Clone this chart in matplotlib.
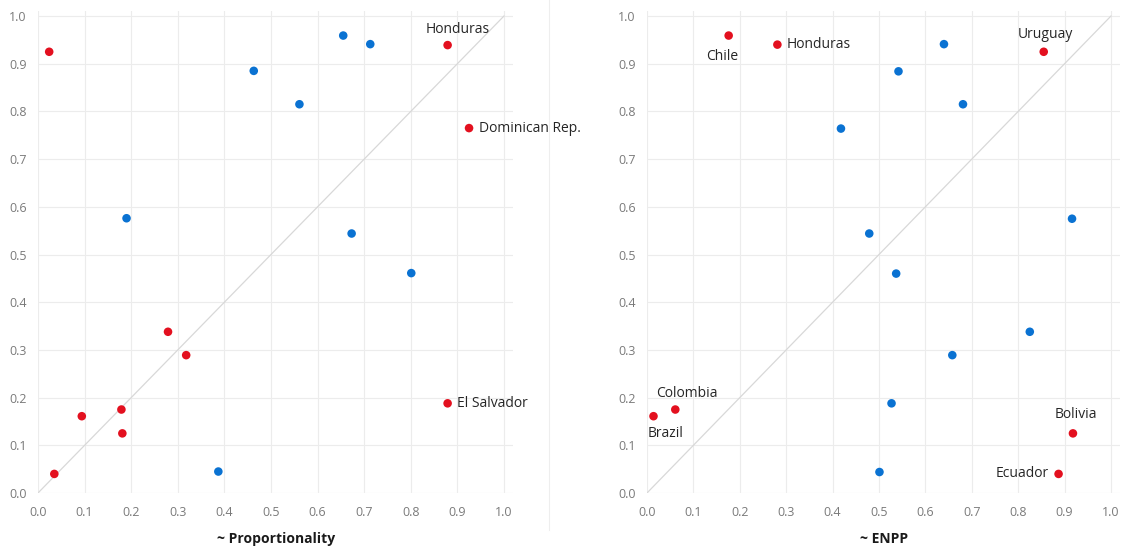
"""Two scatter panels of party-system measures for 18 Latin American countries."""

import matplotlib
import matplotlib.pyplot as plt
from matplotlib.lines import Line2D

matplotlib.use("Agg")

plt.rcParams["font.family"] = ["Open Sans", "DejaVu Sans"]

RED = "#e3101f"
BLUE = "#0a72d2"

# left panel: ~ Proportionality
prop_x = [0.024, 0.879, 0.925, 0.279, 0.318, 0.094, 0.179, 0.181, 0.035, 0.879,
          0.190, 0.463, 0.561, 0.655, 0.713, 0.673, 0.801, 0.387]
prop_y = [0.925, 0.939, 0.765, 0.338, 0.289, 0.161, 0.175, 0.125, 0.040, 0.188,
          0.576, 0.885, 0.815, 0.959, 0.941, 0.544, 0.461, 0.045]
prop_red = [True] * 10 + [False] * 8
prop_labels = {1: "Honduras", 2: "Dominican Rep.", 9: "El Salvador"}

# right panel: ~ ENPP
enpp_x = [0.176, 0.281, 0.855, 0.061, 0.014, 0.918, 0.887,
          0.640, 0.542, 0.681, 0.418, 0.916, 0.479, 0.537, 0.825, 0.658, 0.527, 0.501]
enpp_y = [0.959, 0.940, 0.925, 0.175, 0.161, 0.125, 0.040,
          0.941, 0.884, 0.815, 0.764, 0.575, 0.544, 0.460, 0.338, 0.289, 0.188, 0.044]
enpp_red = [True] * 7 + [False] * 11
enpp_labels = {0: "Chile", 1: "Honduras", 2: "Uruguay", 3: "Colombia",
               4: "Brazil", 5: "Bolivia", 6: "Ecuador"}

# where each label sits relative to its point: (dx, dy, ha, va) in points
label_place = {
    "Honduras_L": (7, 6, "center", "bottom"),
    "Dominican Rep.": (7, 0, "left", "center"),
    "El Salvador": (7, 0, "left", "center"),
    "Chile": (-5, -10, "center", "top"),
    "Honduras_R": (7, 0, "left", "center"),
    "Uruguay": (1, 7, "center", "bottom"),
    "Colombia": (8, 6, "center", "bottom"),
    "Brazil": (9, -7, "center", "top"),
    "Bolivia": (2, 8, "center", "bottom"),
    "Ecuador": (-7, 0, "right", "center"),
}

ticks = [i / 10 for i in range(11)]
W, H = 1126, 550
fig = plt.figure(figsize=(W / 100, H / 100), dpi=100)


def draw_panel(rect, xs, ys, reds, labels, xlabel, side):
    ax = fig.add_axes(rect)
    ax.set_xlim(0, 1.02)
    ax.set_ylim(0, 1.01)
    ax.set_xticks(ticks)
    ax.set_yticks(ticks)
    ax.set_xticklabels([f"{t:.1f}" for t in ticks])
    ax.set_yticklabels([f"{t:.1f}" for t in ticks])
    ax.grid(True, color="#ececec", linewidth=0.8)
    ax.set_axisbelow(True)
    for sp in ax.spines.values():
        sp.set_visible(False)
    ax.tick_params(length=0, labelsize=9, colors="#7a7a7a")
    ax.tick_params(axis="x", pad=9)
    ax.tick_params(axis="y", pad=8)
    ax.plot([0, 1], [0, 1], color="#d8d8d8", linewidth=0.9, zorder=1)
    colors = [RED if r else BLUE for r in reds]
    ax.scatter(xs, ys, s=38, c=colors, linewidths=0, zorder=3)
    for i, name in labels.items():
        key = f"{name}_{side}" if name == "Honduras" else name
        dx, dy, ha, va = label_place[key]
        ax.annotate(name, (xs[i], ys[i]), xytext=(dx, dy), textcoords="offset points",
                    ha=ha, va=va, fontsize=10, color="#262626")
    ax.set_xlabel(xlabel, fontsize=10, fontweight="bold", color="#1a1a1a", labelpad=10)
    return ax


bottom = (H - 493) / H
height = 477 * 1.01 / H
draw_panel([38 / W, bottom, 466 * 1.02 / W, height], prop_x, prop_y, prop_red,
           prop_labels, "~ Proportionality", "L")
draw_panel([647 / W, bottom, 464 * 1.02 / W, height], enpp_x, enpp_y, enpp_red,
           enpp_labels, "~ ENPP", "R")

# faint divider between the panels
fig.add_artist(Line2D([549 / W, 549 / W], [20 / H, 1.0], color="#eeeeee", linewidth=0.8))

fig.savefig("out.png", dpi=100)
